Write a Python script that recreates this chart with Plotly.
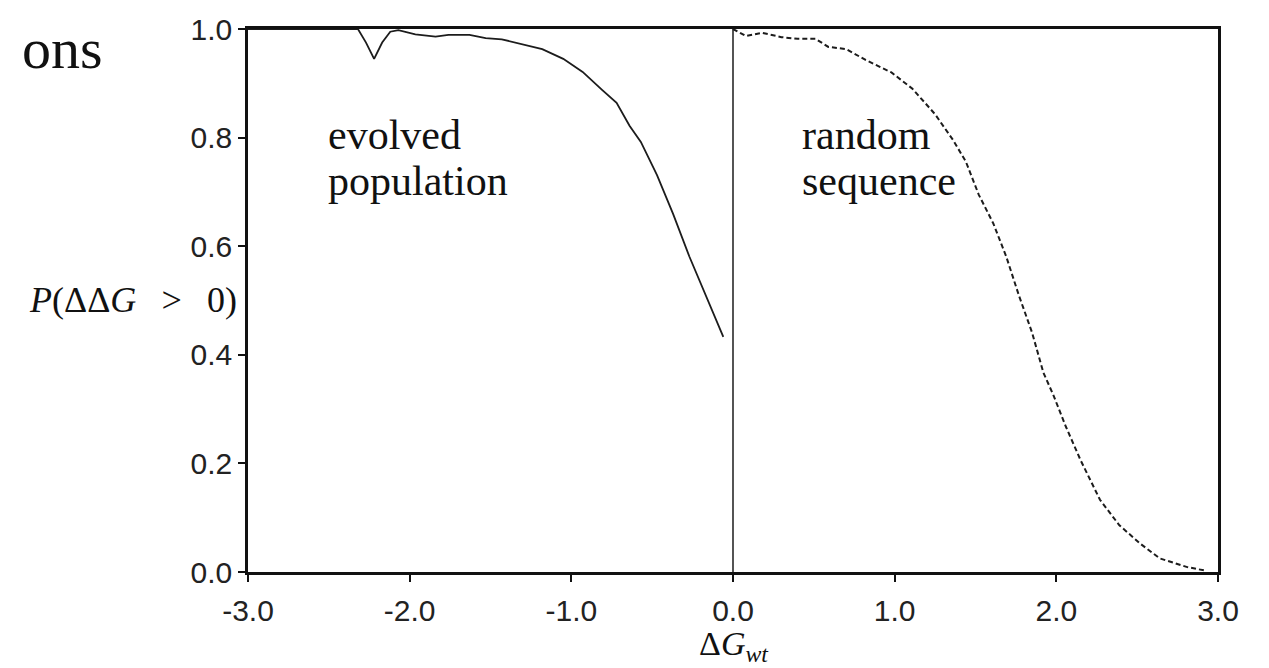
import plotly.graph_objects as go

# ---- data ----
evolved_x = [-3.0, -2.6, -2.32, -2.27, -2.22, -2.17, -2.12, -2.07, -1.965, -1.84, -1.76, -1.63,
             -1.53, -1.43, -1.30, -1.18, -1.05, -0.93, -0.81, -0.72, -0.64, -0.57, -0.47,
             -0.37, -0.27, -0.16, -0.06]
evolved_y = [1.0, 1.0, 1.0, 0.975, 0.945, 0.975, 0.995, 0.998, 0.990, 0.986, 0.989, 0.989,
             0.983, 0.981, 0.972, 0.963, 0.945, 0.921, 0.888, 0.864, 0.822, 0.792, 0.731,
             0.659, 0.581, 0.502, 0.433]

random_x = [0.0, 0.08, 0.18, 0.30, 0.40, 0.51, 0.59, 0.70, 0.82, 0.98, 1.11, 1.25, 1.36,
            1.44, 1.52, 1.61, 1.69, 1.77, 1.85, 1.92, 1.98, 2.06, 2.15, 2.27, 2.39, 2.52,
            2.64, 2.81, 2.93]
random_y = [1.0, 0.987, 0.993, 0.985, 0.982, 0.982, 0.967, 0.963, 0.943, 0.920, 0.890,
            0.843, 0.796, 0.756, 0.695, 0.642, 0.581, 0.508, 0.441, 0.367, 0.327, 0.267,
            0.206, 0.133, 0.086, 0.052, 0.025, 0.009, 0.002]

divider_x = [0.0, 0.0]
divider_y = [0.0, 1.0]

x_ticks = [-3.0, -2.0, -1.0, 0.0, 1.0, 2.0, 3.0]
x_ticklabels = ["-3.0", "-2.0", "-1.0", "0.0", "1.0", "2.0", "3.0"]
y_ticks = [0.0, 0.2, 0.4, 0.6, 0.8, 1.0]
y_ticklabels = ["0.0", "0.2", "0.4", "0.6", "0.8", "1.0"]

label_evolved = ["evolved", "population"]
label_random = ["random", "sequence"]
title_fragment = "ons"
y_title = "<i>P</i>(ΔΔ<i>G</i>\u2002\u2009>\u2002\u20090)"
x_title = "Δ<i>G</i><sub><i>wt</i></sub>"

# ---- layout geometry (pixels) ----
W, H = 1269, 668
L, R, T, B = 248, 51, 18, 96
PW, PH = W - L - R, H - T - B


def px(xp):
    return (xp - L) / PW


def py(yp):
    return (H - B - yp) / PH


INK = "#1c1c1c"
SERIF = "Liberation Serif, Times New Roman, serif"
SANS = "Liberation Sans, Arial, Helvetica, sans-serif"

fig = go.Figure()
fig.add_trace(go.Scatter(x=divider_x, y=divider_y, mode="lines",
                         line=dict(color="#2a2a2a", width=1.6), hoverinfo="skip", showlegend=False))
fig.add_trace(go.Scatter(x=evolved_x, y=evolved_y, mode="lines",
                         line=dict(color=INK, width=1.8), showlegend=False))
fig.add_trace(go.Scatter(x=random_x, y=random_y, mode="lines",
                         line=dict(color=INK, width=2, dash="5px,3px"), showlegend=False))

axis_common = dict(showline=True, linecolor="#111", linewidth=2.5, mirror=True,
                   ticks="outside", ticklen=7, tickwidth=2, tickcolor="#111",
                   showgrid=False, zeroline=False,
                   tickfont=dict(family=SANS, size=30, color="#222"))

fig.update_xaxes(range=[-3, 3], tickvals=x_ticks, ticktext=x_ticklabels,
                 ticklabelstandoff=3, **axis_common)
fig.update_yaxes(range=[0, 1], tickvals=y_ticks, ticktext=y_ticklabels,
                 ticklabelstandoff=0, **axis_common)


def ann(text, xp, yp, size, xanchor="left", family=SERIF):
    fig.add_annotation(text=text, xref="paper", yref="paper", x=px(xp), y=py(yp),
                       xanchor=xanchor, yanchor="middle", showarrow=False,
                       font=dict(family=family, size=size, color="#111"))


# baseline -> middle: subtract ~0.51 em
ann(title_fragment, 20, 67 - 0.51 * 58, 58)
ann(label_evolved[0], 326, 148 - 0.51 * 42, 42)
ann(label_evolved[1], 326, 195 - 0.51 * 42, 42)
ann(label_random[0], 800, 148 - 0.51 * 42, 42)
ann(label_random[1], 800, 195 - 0.51 * 42, 42)
ann(y_title, 239, 313 - 0.51 * 36, 36, xanchor="right")
ann(x_title, 734, 647, 34, xanchor="center")

fig.update_layout(width=W, height=H, margin=dict(l=L, r=R, t=T, b=B),
                  paper_bgcolor="white", plot_bgcolor="white", showlegend=False)

fig.write_html("out.html")
